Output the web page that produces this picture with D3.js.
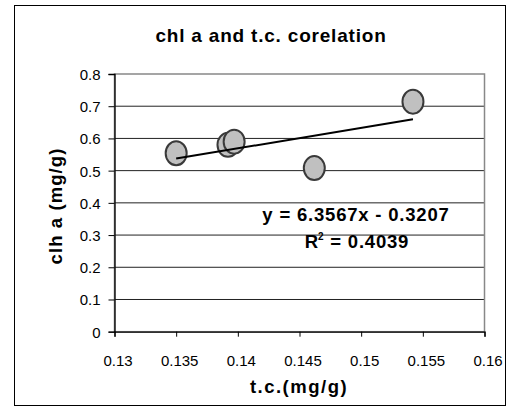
<!DOCTYPE html>
<html><head><meta charset="utf-8">
<script src="https://cdn.jsdelivr.net/npm/d3@7"></script>
<style>body{margin:0;background:#fff}svg{display:block}text{font-family:"Liberation Sans",Arial,sans-serif}</style>
</head><body>
<script>
const xValues = [0.1350, 0.1392, 0.1397, 0.1462, 0.1542];
const yValues = [0.554, 0.580, 0.590, 0.508, 0.714];
const xTicks = [0.13, 0.135, 0.14, 0.145, 0.15, 0.155, 0.16];
const yTicks = [0, 0.1, 0.2, 0.3, 0.4, 0.5, 0.6, 0.7, 0.8];
const slope = 6.3567, intercept = -0.3207;
const eqText = "y = 6.3567x - 0.3207";
const r2Text = "0.4039";

const W = 517, H = 412;
const svg = d3.select("body").append("svg").attr("width", W).attr("height", H);
svg.append("rect").attr("x", 14.5).attr("y", 5.5).attr("width", 491).attr("height", 400)
  .attr("fill", "#fff").attr("stroke", "#000").attr("stroke-width", 1);

const L = 114.5, R = 484.5, T = 74, B = 331.7;
const x = d3.scaleLinear().domain([0.13, 0.16]).range([L, R]);
const y = d3.scaleLinear().domain([0, 0.8]).range([B, T]);

// gridlines
svg.append("g").selectAll("line").data(yTicks.filter(d => d > 0 && d < 0.8)).join("line")
  .attr("x1", L).attr("x2", R).attr("y1", d => y(d)).attr("y2", d => y(d))
  .attr("stroke", "#222").attr("stroke-width", 1);
// plot border (gray)
svg.append("rect").attr("x", L).attr("y", T).attr("width", R - L).attr("height", B - T)
  .attr("fill", "none").attr("stroke", "#888").attr("stroke-width", 1.5);

// axes
const yAxis = d3.axisLeft(y).tickValues(yTicks).tickSize(6).tickFormat(d => String(d));
const gy = svg.append("g").attr("transform", `translate(${L},0)`).call(yAxis);
const xAxis = d3.axisBottom(x).tickValues(xTicks).tickSize(5).tickFormat(d => String(+d.toFixed(3)));
const gx = svg.append("g").attr("transform", `translate(0,${B})`).call(xAxis);
[gx, gy].forEach(g => {
  g.select(".domain").attr("stroke", "#000").attr("stroke-width", 1.3);
  g.selectAll(".tick line").attr("stroke", "#000");
  g.selectAll("text").attr("font-size", 15).attr("fill", "#000").attr("letter-spacing", 0)
   .attr("font-family", "Liberation Sans, Arial, sans-serif");
});
gy.selectAll("text").attr("x", -14).attr("dy", "0.36em");
gx.selectAll("text").attr("y", 24).attr("dx", 3);

// points
svg.append("g").selectAll("ellipse").data(xValues.map((d, i) => [d, yValues[i]])).join("ellipse")
  .attr("cx", d => x(d[0])).attr("cy", d => y(d[1])).attr("rx", 10.5).attr("ry", 12)
  .attr("fill", "#c0c0c0").attr("stroke", "#3a3a3a").attr("stroke-width", 2);

// trendline (drawn over the points)
const x0 = d3.min(xValues), x1 = d3.max(xValues);
svg.append("line").attr("x1", x(x0)).attr("y1", y(slope * x0 + intercept))
  .attr("x2", x(x1)).attr("y2", y(slope * x1 + intercept))
  .attr("stroke", "#000").attr("stroke-width", 2);

// equation
svg.append("text").attr("x", 356).attr("y", 221).attr("text-anchor", "middle")
  .attr("font-size", 18.5).attr("font-weight", "bold").attr("letter-spacing", 0.8).text(eqText);
const r2 = svg.append("text").attr("x", 357).attr("y", 248).attr("text-anchor", "middle")
  .attr("font-size", 18.5).attr("font-weight", "bold").attr("letter-spacing", 0.8);
r2.append("tspan").text("R");
r2.append("tspan").attr("font-size", 10).attr("dy", -8).attr("dx", -1).text("2");
r2.append("tspan").attr("dy", 8).text(" = " + r2Text);

// title & labels
svg.append("text").attr("x", 271).attr("y", 41.5).attr("text-anchor", "middle")
  .attr("font-size", 19).attr("font-weight", "bold").attr("letter-spacing", 0.8).text("chl a and t.c. corelation");
svg.append("text").attr("x", 299).attr("y", 393).attr("text-anchor", "middle")
  .attr("font-size", 18.5).attr("font-weight", "bold").attr("letter-spacing", 1.5).text("t.c.(mg/g)");
svg.append("text").attr("transform", "translate(62,206) rotate(-90)").attr("text-anchor", "middle")
  .attr("font-size", 18.5).attr("font-weight", "bold").attr("letter-spacing", 1.1).text("clh a (mg/g)");
</script>
</body></html>
